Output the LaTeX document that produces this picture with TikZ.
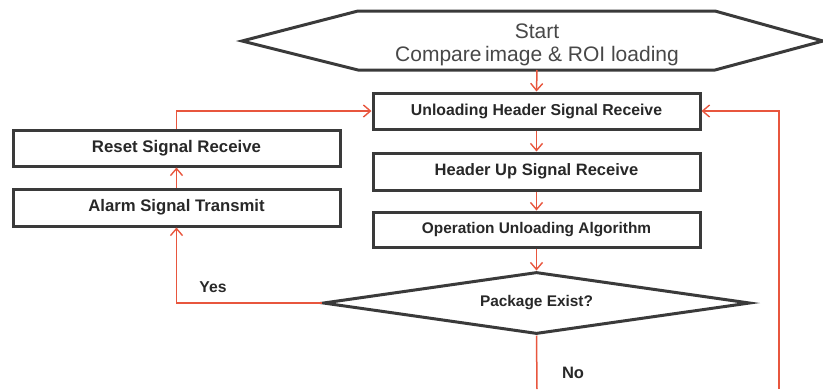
\documentclass[tikz,border=0pt]{standalone}
\usepackage{fontspec}
\setmainfont{Liberation Sans}
\usetikzlibrary{arrows.meta,shapes.geometric}
\definecolor{edge}{RGB}{232,86,62}
\definecolor{ink}{RGB}{40,40,40}
\definecolor{frame}{RGB}{58,58,58}
\tikzset{
  procbox/.style={draw=frame, line width=3pt, fill=white, inner sep=0pt, minimum width=327pt, text=ink, font=\bfseries},
  conn/.style={draw=edge, line width=1.5pt, -{Straight Barb[length=7pt,width=12pt,line width=1.4pt]}},
  plainconn/.style={draw=edge, line width=1.5pt},
  lbl/.style={text=ink, font=\bfseries, inner sep=0pt},
}
\begin{document}
\begin{tikzpicture}[x=1pt,y=-1pt]
\useasboundingbox (0,0) rectangle (823,389);
% start hexagon
\draw[draw=frame, line width=3pt, line join=miter, fill=white] (242,41) -- (358,11) -- (715,11) -- (823,41) -- (715,70) -- (358,70) -- cycle;
\node[text=ink!85, align=center, inner sep=0pt, font=\fontsize{21}{23}\selectfont] (start) at (537,44.5) {Start\\Compare\,image \& ROI loading};
\coordinate (hexb) at (537,70);
% main boxes
\node[procbox, minimum height=36pt, font=\bfseries\fontsize{15.8}{18}\selectfont] (b1) at (536.5,111) {Unloading Header Signal Receive};
\node[procbox, minimum height=37pt, font=\bfseries\fontsize{16.5}{18}\selectfont] (b2) at (536.5,171.5) {Header Up Signal Receive};
\node[procbox, minimum height=35pt, font=\bfseries\fontsize{15.4}{18}\selectfont] (b3) at (536.5,229.5) {Operation Unloading Algorithm};
\node[procbox, minimum height=36pt, font=\bfseries\fontsize{16.8}{18}\selectfont] (reset) at (176.5,148) {Reset Signal Receive};
\node[procbox, minimum height=37pt, font=\bfseries\fontsize{16.7}{18}\selectfont] (alarm) at (176.5,207.5) {Alarm Signal Transmit};
\node[diamond, aspect=6.9, draw=frame, line width=3pt, fill=white, inner sep=0pt, minimum width=427pt, minimum height=62pt, text=ink, font=\bfseries\fontsize{15.4}{18}\selectfont] (dia) at (536.5,303) {Package Exist?};
% free ends
\coordinate (nob) at (537,389);
\coordinate (rb) at (779,389);
% connectors
\draw[conn] (hexb) -- (b1.north);
\draw[conn] (b1) -- (b2);
\draw[conn] (b2) -- (b3);
\draw[conn] (b3) -- (dia.north);
\draw[conn] (dia.west) -| (alarm.south);
\draw[conn] (alarm) -- (reset);
\draw[conn] (reset.north) |- (b1.west);
\draw[plainconn] (dia.south) -- (nob);
\draw[conn] (rb) |- (b1.east);
% labels
\node[lbl, font=\bfseries\fontsize{15.7}{18}\selectfont] (yes) at (213,287) {Yes};
\node[lbl, font=\bfseries\fontsize{16.5}{18}\selectfont] (no) at (573,373) {No};
\end{tikzpicture}
\end{document}
